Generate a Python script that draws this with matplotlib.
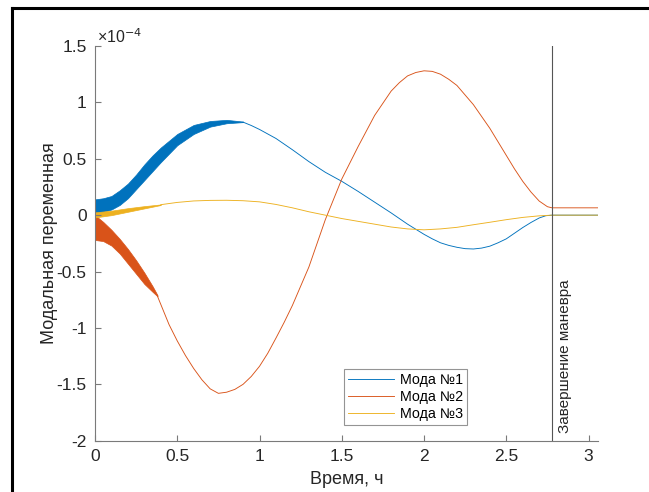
import matplotlib.pyplot as plt
from matplotlib.lines import Line2D

plt.rcParams['font.family'] = ['Liberation Sans', 'DejaVu Sans']
plt.rcParams['axes.unicode_minus'] = False

# values in units of 1e-4, time in hours
# envelopes of the fast-oscillation bands at the start
t_band1 = [0, 0.05, 0.1, 0.15, 0.2, 0.25, 0.3, 0.35, 0.4, 0.5, 0.6, 0.7, 0.8, 0.9]
m1_upper = [0.14, 0.15, 0.17, 0.22, 0.28, 0.36, 0.45, 0.53, 0.60, 0.72, 0.80, 0.835, 0.845, 0.83]
m1_lower = [0.02, 0.03, 0.05, 0.09, 0.15, 0.23, 0.31, 0.39, 0.47, 0.62, 0.72, 0.785, 0.815, 0.825]

t_band2 = [0, 0.05, 0.1, 0.15, 0.2, 0.25, 0.3, 0.35, 0.38]
m2_upper = [0.0, -0.06, -0.13, -0.21, -0.30, -0.40, -0.51, -0.63, -0.71]
m2_lower = [-0.22, -0.23, -0.27, -0.34, -0.43, -0.52, -0.61, -0.68, -0.72]

t_band3 = [0, 0.1, 0.2, 0.3, 0.4]
m3_upper = [0.025, 0.04, 0.062, 0.08, 0.095]
m3_lower = [-0.02, 0.0, 0.03, 0.06, 0.09]

t1 = [0.9, 0.95, 1.0, 1.05, 1.1, 1.2, 1.3, 1.4, 1.5, 1.6, 1.7, 1.8, 1.9, 2.0,
      2.05, 2.1, 2.15, 2.2, 2.25, 2.3, 2.35, 2.4, 2.45, 2.5, 2.55, 2.6, 2.65,
      2.7, 2.74, 2.7778, 3.0556]
mode1 = [0.825, 0.795, 0.76, 0.72, 0.68, 0.58, 0.475, 0.38, 0.30, 0.21, 0.115,
         0.02, -0.08, -0.17, -0.21, -0.245, -0.268, -0.285, -0.297, -0.30,
         -0.292, -0.275, -0.245, -0.21, -0.16, -0.11, -0.065, -0.025, -0.005, 0, 0]

t2 = [0.38, 0.45, 0.5, 0.55, 0.6, 0.65, 0.7, 0.75, 0.8, 0.85, 0.9, 0.95, 1.0,
      1.05, 1.1, 1.15, 1.2, 1.25, 1.3, 1.35, 1.4, 1.45, 1.5, 1.6, 1.7, 1.8,
      1.85, 1.9, 1.95, 2.0, 2.05, 2.1, 2.15, 2.2, 2.3, 2.4, 2.45, 2.5, 2.55,
      2.6, 2.65, 2.7, 2.75, 2.7778, 3.0556]
mode2 = [-0.72, -0.97, -1.115, -1.245, -1.36, -1.46, -1.54, -1.58, -1.57,
         -1.545, -1.50, -1.43, -1.34, -1.225, -1.09, -0.95, -0.80, -0.63, -0.46,
         -0.25, -0.04, 0.14, 0.32, 0.61, 0.885, 1.10, 1.175, 1.235, 1.265, 1.28,
         1.275, 1.25, 1.205, 1.15, 0.98, 0.77, 0.65, 0.53, 0.41, 0.30, 0.205,
         0.125, 0.075, 0.065, 0.065]

t3 = [0.4, 0.5, 0.6, 0.7, 0.8, 0.9, 1.0, 1.1, 1.2, 1.3, 1.4, 1.5, 1.6, 1.7,
      1.8, 1.9, 2.0, 2.1, 2.2, 2.3, 2.4, 2.5, 2.6, 2.7, 2.7778, 3.0556]
mode3 = [0.093, 0.113, 0.126, 0.131, 0.132, 0.128, 0.118, 0.095, 0.065, 0.03,
         0.0, -0.03, -0.055, -0.08, -0.105, -0.122, -0.13, -0.122, -0.108,
         -0.085, -0.063, -0.04, -0.02, -0.006, 0, 0]

t_end = 2.7778
labels = ['Мода №1', 'Мода №2', 'Мода №3']
colors = ['#0072BD', '#D95319', '#EDB120']

fig = plt.figure(figsize=(6.49, 4.92), dpi=100)
ax = fig.add_axes([95 / 649, 1 - 440.7 / 492, 502.7 / 649, 394.7 / 492])

ax.fill_between(t_band1, m1_lower, m1_upper, color=colors[0], lw=0.5)
ax.fill_between(t_band2, m2_lower, m2_upper, color=colors[1], lw=0.5)
ax.fill_between(t_band3, m3_lower, m3_upper, color=colors[2], lw=0.5)

ax.plot(t1, mode1, color=colors[0], lw=0.65, label=labels[0])
ax.plot(t2, mode2, color=colors[1], lw=0.65, label=labels[1])
ax.plot(t3, mode3, color=colors[2], lw=0.65, label=labels[2])

ax.axvline(t_end, color='#555555', lw=0.8)
ax.text(t_end + 0.08, -1.93, 'Завершение маневра', rotation=90,
        ha='center', va='bottom', fontsize=11, color='#262626')

ax.set_xlim(0, 3.0556)
ax.set_ylim(-2, 1.5)
ax.set_xticks([0, 0.5, 1, 1.5, 2, 2.5, 3])
ax.set_xticklabels(['0', '0.5', '1', '1.5', '2', '2.5', '3'])
ax.set_yticks([-2, -1.5, -1, -0.5, 0, 0.5, 1, 1.5])
ax.set_yticklabels(['-2', '-1.5', '-1', '-0.5', '0', '0.5', '1', '1.5'])

for s in ['top', 'right']:
    ax.spines[s].set_visible(False)
for s in ['left', 'bottom']:
    ax.spines[s].set_color('#7a7a7a')
    ax.spines[s].set_linewidth(0.8)
ax.tick_params(direction='in', length=4, width=0.8, color='#7a7a7a',
               labelsize=12.5, labelcolor='#262626', pad=6)

ax.text(0.004, 1.0, '×10$^{-4}$', transform=ax.transAxes, ha='left',
        va='bottom', fontsize=11.5, color='#262626')

ax.set_xlabel('Время, ч', fontsize=13, color='#262626', labelpad=5)
ax.set_ylabel('Модальная переменная', fontsize=13, color='#262626', labelpad=-1)

leg = ax.legend(loc='lower left', bbox_to_anchor=(0.495, 0.04), fontsize=10.3,
                frameon=True, fancybox=False, handlelength=3.2,
                borderpad=0.3, labelspacing=0.2, handletextpad=0.4,
                borderaxespad=0)
leg.get_frame().set_edgecolor('#7a7a7a')
leg.get_frame().set_linewidth(0.8)

# outer frame (top and left edges of the screenshot)
fig.add_artist(Line2D([11.5 / 649, 1], [1 - 7.5 / 492, 1 - 7.5 / 492],
                      transform=fig.transFigure, color='black', lw=2.2))
fig.add_artist(Line2D([11.5 / 649, 11.5 / 649], [0, 1 - 7.5 / 492],
                      transform=fig.transFigure, color='black', lw=2.2))

fig.savefig('out.png', dpi=100)
